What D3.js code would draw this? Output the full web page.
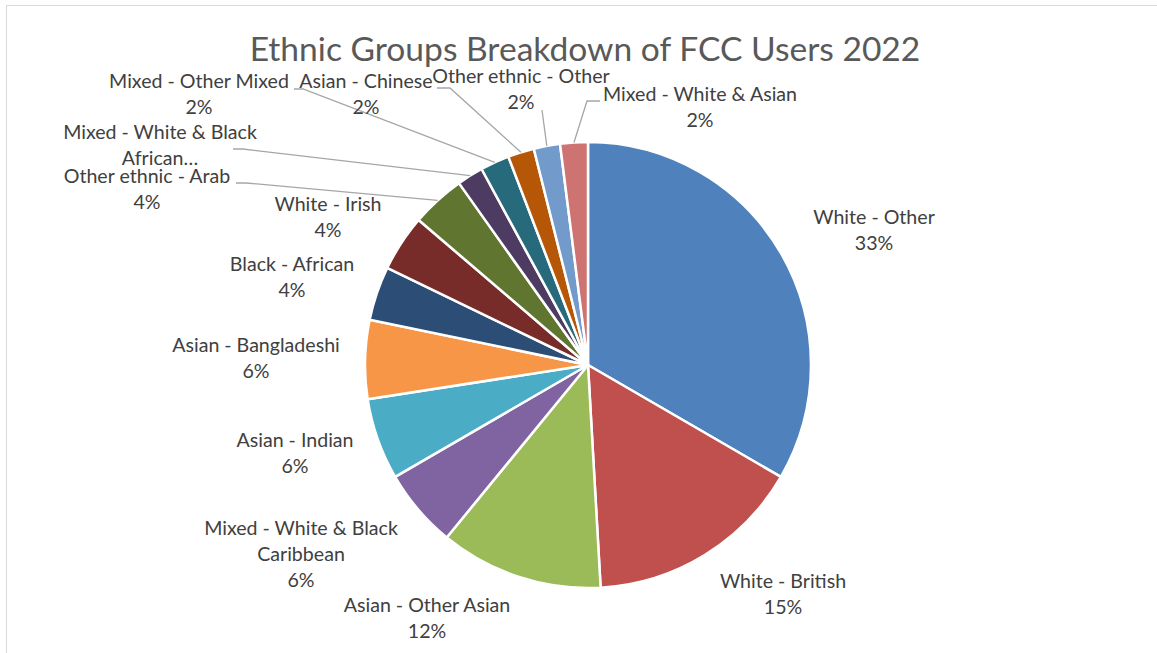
<!DOCTYPE html>
<html>
<head>
<meta charset="utf-8">
<script src="https://cdn.jsdelivr.net/npm/d3@7"></script>
<style>
  html, body { margin: 0; padding: 0; background: #fff; }
  svg { display: block; }
</style>
</head>
<body>
<svg id="chart" width="1157" height="653"></svg>
<script>
// ---- data ----
const categories = [
  "White - Other", "White - British", "Asian - Other Asian",
  "Mixed - White & Black Caribbean", "Asian - Indian", "Asian - Bangladeshi",
  "Black - African", "White - Irish", "Other ethnic - Arab",
  "Mixed - White & Black African", "Mixed - Other Mixed", "Asian - Chinese",
  "Other ethnic - Other", "Mixed - White & Asian"
];
const values = [33.3, 15.7, 11.8, 5.7, 5.9, 5.7, 3.9, 4.1, 3.9, 1.9, 2.1, 1.9, 1.9, 2.0];
// label text as displayed (the W&B African label is truncated in the chart)
const labelLines = [
  ["White - Other"], ["White - British"], ["Asian - Other Asian"],
  ["Mixed - White & Black", "Caribbean"], ["Asian - Indian"], ["Asian - Bangladeshi"],
  ["Black - African"], ["White - Irish"], ["Other ethnic - Arab"],
  ["Mixed - White & Black", "African\u2026"], ["Mixed - Other Mixed"], ["Asian - Chinese"],
  ["Other ethnic - Other"], ["Mixed - White & Asian"]
];
const percentLabels = ["33%", "15%", "12%", "6%", "6%", "6%", "4%", "4%", "4%", null, "2%", "2%", "2%", "2%"];
const colors = ["#4F81BD", "#C0504D", "#9BBB59", "#8064A2", "#4BACC6", "#F79646",
                "#2C4D75", "#772C2A", "#5F7530", "#4D3B62", "#276A7C", "#B65708",
                "#729ACA", "#CD7371"];
const title = "Ethnic Groups Breakdown of FCC Users 2022";

// ---- layout (not data) ----
const cx = 588, cy = 365, R = 223;
const labelFont = 19.6, lineGap = 26;
// center x and first-line baseline for each label block
const labelAnchor = [
  [874, 224], [783, 588], [427, 612], [301, 535], [295, 447], [256, 352],
  [292, 271], [328, 211], [147, 183], [160, 139], [199, 88], [366, 88],
  [521, 83], [700, 101]
];
// leader line label-side points (null = no leader)
const leaderStart = [
  null, null, null, null, null, null, null, null,
  [[236, 183], [246, 183]],
  [[233, 149], [243, 149]],
  [[294, 89], [303, 89]],
  [[437, 88], [450, 88]],
  [[542, 110]],
  [[600, 101], [587, 101]]
];

const svg = d3.select("#chart");

// chart area border
svg.append("rect")
  .attr("x", 6.5).attr("y", 5.5)
  .attr("width", 1200).attr("height", 700)
  .attr("fill", "#fff").attr("stroke", "#d9d9d9").attr("stroke-width", 1);

// title
svg.append("text")
  .attr("x", 585).attr("y", 61)
  .attr("text-anchor", "middle")
  .attr("font-family", "Lato, 'Open Sans', sans-serif")
  .attr("font-size", 33.6)
  .attr("fill", "#595959")
  .text(title);

const pie = d3.pie().sort(null).value(d => d)(values);
const arc = d3.arc().innerRadius(0).outerRadius(R);

const g = svg.append("g").attr("transform", `translate(${cx},${cy})`);
g.selectAll("path.slice")
  .data(pie)
  .join("path")
  .attr("class", "slice")
  .attr("d", arc)
  .attr("fill", (d, i) => colors[i])
  .attr("stroke", "#fff")
  .attr("stroke-width", 2.5)
  .attr("stroke-linejoin", "round");

// leader lines
const line = d3.line();
pie.forEach((d, i) => {
  const s = leaderStart[i];
  if (!s) return;
  const a = (d.startAngle + d.endAngle) / 2;
  const rim = [cx + R * Math.sin(a), cy - R * Math.cos(a)];
  svg.append("path")
    .attr("d", line([...s, rim]))
    .attr("fill", "none")
    .attr("stroke", "#a6a6a6")
    .attr("stroke-width", 1.3);
});

// labels
categories.forEach((c, i) => {
  const [x, y] = labelAnchor[i];
  const lines = percentLabels[i] ? [...labelLines[i], percentLabels[i]] : [...labelLines[i]];
  const t = svg.append("text")
    .attr("text-anchor", "middle")
    .attr("font-family", "Lato, 'Open Sans', sans-serif")
    .attr("font-size", labelFont)
    .attr("fill", "#404040");
  lines.forEach((l, k) => {
    t.append("tspan").attr("x", x).attr("y", y + k * lineGap).text(l);
  });
});
</script>
</body>
</html>
